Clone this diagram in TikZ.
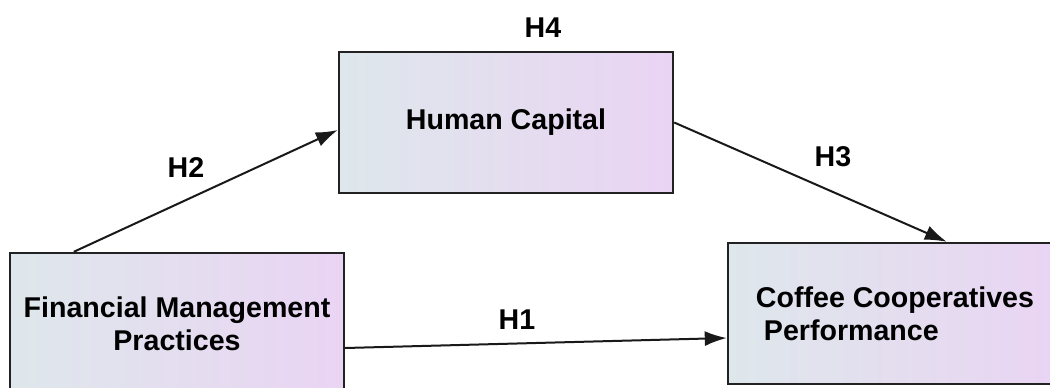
\documentclass[tikz,border=0pt]{standalone}
\usepackage{fontspec}
\setmainfont{Liberation Sans}
\usetikzlibrary{arrows.meta,calc}
\definecolor{boxleft}{HTML}{DEE7EB}
\definecolor{boxright}{HTML}{EAD4F4}
\definecolor{boxline}{HTML}{222222}
\tikzset{
  varbox/.style={draw=boxline, line width=2.4pt, left color=boxleft, right color=boxright,
    minimum width=#1, inner sep=0pt, font=\fontsize{28.6}{33}\selectfont\bfseries},
  hlabel/.style={font=\fontsize{28.6}{33}\selectfont\bfseries, inner sep=0pt},
  link/.style={line width=2pt, draw=black!90, -{Latex[length=22pt,width=15pt]}}
}
\begin{document}
\begin{tikzpicture}[x=1pt,y=-1pt]
\clip (0,0) rectangle (1050,388);
\fill[white] (0,0) rectangle (1050,388);
\node[varbox=334pt, minimum height=142pt, align=center] (fmp) at (177,324) {Financial Management\\Practices};
\node[varbox=334pt, minimum height=141pt] (hc) at (506,122.5) {Human Capital};
\node[varbox=334pt, minimum height=141pt, align=left] (ccp) at (895,313.5) {Coffee Cooperatives\\\hspace*{8pt}Performance};
\node[hlabel] (h4) at (543,28) {H4};
\node[hlabel] (h2) at (186,168) {H2};
\node[hlabel] (h3) at (833,157) {H3};
\node[hlabel] (h1) at (517,320) {H1};
\draw[link] ($(fmp.north west)+(65,0)$) -- ($(hc.west)+(0,7.5)$);
\draw[link] (hc.east) -- ($(ccp.north west)+(220,0)$);
\draw[link] ($(fmp.east)+(0,24)$) -- ($(ccp.west)+(0,24.5)$);
\end{tikzpicture}
\end{document}
